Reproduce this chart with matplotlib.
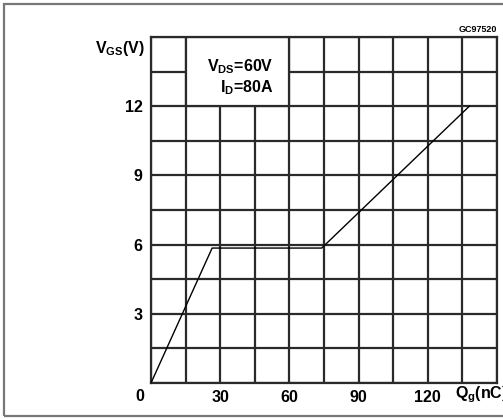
import matplotlib

matplotlib.use("Agg")

import matplotlib.pyplot as plt  # noqa: E402
import numpy as np  # noqa: E402
from matplotlib.patches import Rectangle  # noqa: E402

# gate charge curve (nC, V)
qg = [0, 26.5, 74, 138]
vgs = [0, 5.85, 5.85, 12]

x_ticks = [30, 60, 90, 120]
y_ticks = [3, 6, 9, 12]

plt.rcParams["font.family"] = ["Liberation Sans", "DejaVu Sans"]
plt.rcParams["font.weight"] = "bold"

fig = plt.figure(figsize=(5.03, 4.19), dpi=100)
ax = fig.add_axes([151 / 503, 36 / 419, 346 / 503, 346 / 419])

grid_c = "#2a2a2a"
xs = np.arange(0, 151, 15)
ys = np.arange(0, 15.1, 1.5)
ax.set_xlim(0, 150)
ax.set_ylim(0, 15)
ax.set_xticks(xs)
ax.set_yticks(ys)
ax.set_xticklabels([f"{int(v)}" if v in x_ticks else "" for v in xs])
ax.set_yticklabels([f"{int(v)}" if v in y_ticks else "" for v in ys])
ax.tick_params(length=0, labelsize=11.5)
ax.tick_params(axis="x", pad=5)
ax.tick_params(axis="y", pad=6)
ax.grid(True, color=grid_c, lw=1.6)
for s in ax.spines.values():
    s.set_color(grid_c)
    s.set_linewidth(1.6)

# blank panel behind the conditions
ax.add_patch(Rectangle((15, 12), 45, 3, facecolor="white", edgecolor=grid_c,
                       lw=1.6, zorder=2))
ax.text(53, 13.72, r"V$_{\mathregular{DS}}$=60V", ha="right", va="center",
        fontsize=11.5, zorder=3)
ax.text(53, 12.82, r"I$_{\mathregular{D}}$=80A", ha="right", va="center",
        fontsize=11.5, zorder=3)

ax.plot(qg, vgs, color="black", lw=1.0, zorder=4)

# shared origin label
fig.text(140 / 503, 1 - 396 / 419, "0", ha="center", va="center", fontsize=11.5)
fig.text(145 / 503, 1 - 49 / 419, r"V$_{\mathregular{GS}}$(V)", ha="right",
         va="center", fontsize=11.5)
fig.text(455 / 503, 1 - 395 / 419, r"Q$_{\mathregular{g}}$(nC)", ha="left",
         va="center", fontsize=11.5)
fig.text(497 / 503, 1 - 29 / 419, "GC97520", ha="right", va="center",
         fontsize=6.5)

fig.patches.append(Rectangle((4 / 503, 3 / 419), 600 / 503, 412 / 419,
                             transform=fig.transFigure, fill=False,
                             edgecolor="#777777", lw=1.6))

fig.savefig("out.png", dpi=100)
